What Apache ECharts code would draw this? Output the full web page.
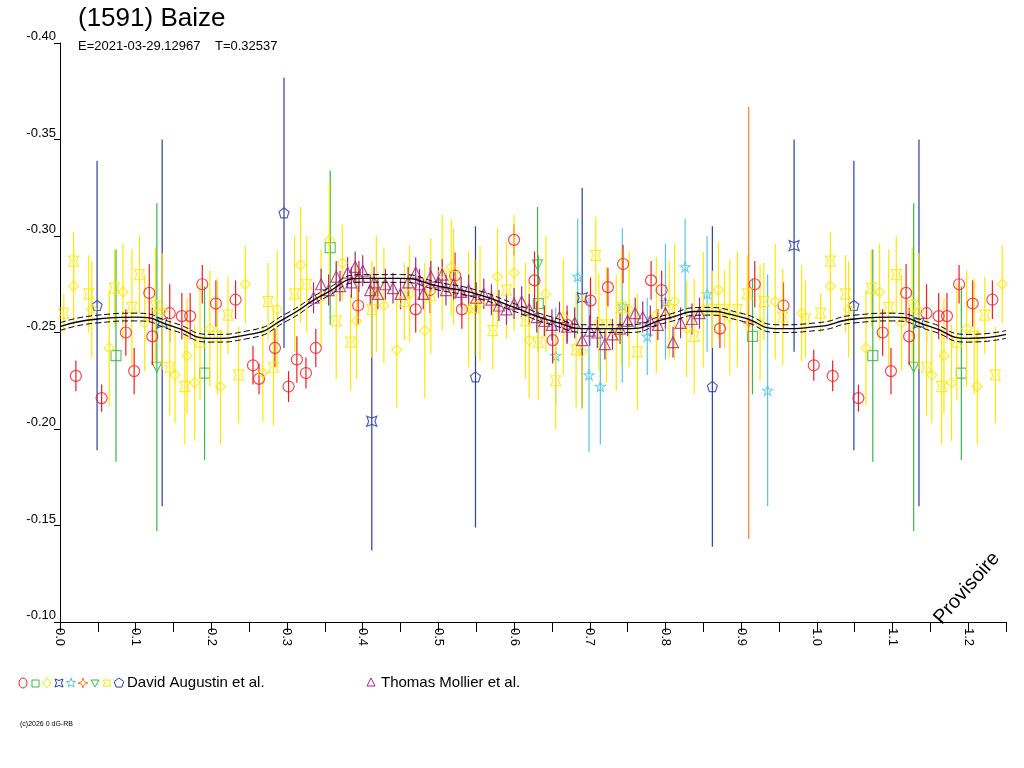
<!DOCTYPE html>
<html><head><meta charset="utf-8">
<script src="https://cdn.jsdelivr.net/npm/echarts@6/dist/echarts.min.js"></script>
<style>html,body{margin:0;padding:0;background:#fff}#c{width:1024px;height:768px}</style>
</head><body><div id="c"></div>
<script>
// model curve (phase, mag)
const curvePhase=[0,0.05,0.1,0.15,0.2,0.25,0.3,0.35,0.4,0.45,0.5,0.55,0.6,0.65,0.7,0.75,0.8,0.85,0.9,0.95,1.0,1.05,1.1,1.15,1.2,1.25];
const curveMag=[-0.253,-0.257,-0.258,-0.253,-0.247,-0.249,-0.258,-0.270,-0.278,-0.278,-0.274,-0.270,-0.263,-0.256,-0.252,-0.252,-0.257,-0.261,-0.258,-0.252,-0.253,-0.257,-0.258,-0.253,-0.247,-0.249];
// data: [phase, mag, err]
const redCircle=[[.021,-.2275,.008],[.055,-.216,.007],[.087,-.250,.012],[.098,-.230,.012],[.118,-.2705,.015],[.122,-.248,.015],[.145,-.260,.015],[.161,-.2585,.012],[.172,-.2585,.012],[.188,-.275,.010],[.206,-.265,.012],[.232,-.267,.010],[.255,-.233,.010],[.263,-.226,.008],[.284,-.242,.010],[.302,-.222,.008],[.313,-.236,.012],[.325,-.229,.008],[.338,-.242,.010],[.394,-.264,.010],[.470,-.262,.012],[.489,-.272,.012],[.522,-.2795,.012],[.531,-.262,.010],[.600,-.298,.008],[.627,-.277,.015],[.651,-.246,.012],[.670,-.254,.010],[.701,-.2665,.012],[.724,-.2735,.010],[.744,-.2855,.010],[.781,-.277,.010],[.795,-.272,.010],[.872,-.252,.010],[.918,-.275,.012],[.956,-.264,.012],[.996,-.233,.008]];
const greenSquare=[[.074,-.238,.055],[.191,-.229,.045],[.357,-.294,.040],[.632,-.265,.025],[.915,-.248,.030]];
const yellowDiamond=[[.018,-.274,.020],[.042,-.262,.025],[.065,-.242,.030],[.083,-.271,.025],[.112,-.255,.025],[.135,-.261,.030],[.152,-.228,.025],[.168,-.238,.030],[.178,-.224,.030],[.198,-.252,.030],[.212,-.222,.030],[.245,-.275,.020],[.268,-.229,.025],[.287,-.262,.030],[.318,-.285,.030],[.345,-.268,.025],[.356,-.298,.030],[.373,-.286,.020],[.392,-.256,.030],[.418,-.270,.030],[.428,-.264,.030],[.445,-.241,.030],[.462,-.270,.025],[.482,-.251,.035],[.505,-.281,.030],[.517,-.284,.025],[.540,-.262,.030],[.555,-.265,.030],[.578,-.279,.025],[.600,-.281,.030],[.620,-.246,.030],[.642,-.270,.030],[.665,-.258,.030],[.690,-.240,.030],[.712,-.255,.025],[.735,-.250,.030],[.752,-.262,.030],[.788,-.259,.030],[.812,-.266,.030],[.828,-.252,.025],[.850,-.262,.030],[.870,-.272,.025],[.885,-.258,.030],[.925,-.255,.030],[.945,-.266,.030],[.980,-.260,.025]];
const yellowStar=[[.005,-.260,.010],[.018,-.287,.015],[.038,-.270,.020],[.072,-.273,.020],[.095,-.263,.030],[.105,-.280,.020],[.126,-.264,.030],[.145,-.232,.025],[.165,-.222,.030],[.185,-.245,.030],[.208,-.248,.030],[.222,-.259,.020],[.236,-.228,.025],[.275,-.266,.020],[.282,-.232,.030],[.310,-.270,.030],[.326,-.275,.025],[.365,-.256,.030],[.384,-.245,.025],[.412,-.262,.025],[.455,-.266,.020],[.490,-.269,.030],[.520,-.279,.025],[.548,-.263,.025],[.572,-.251,.020],[.590,-.272,.025],[.615,-.256,.030],[.632,-.245,.030],[.655,-.225,.025],[.682,-.241,.030],[.708,-.290,.020],[.722,-.254,.030],[.742,-.263,.030],[.763,-.240,.030],[.805,-.262,.025],[.838,-.248,.030],[.862,-.262,.020],[.878,-.262,.020],[.895,-.262,.030],[.908,-.270,.020],[.930,-.266,.020],[.955,-.258,.025],[.985,-.257,.020]];
const blueBox=[[.135,-.255,.095],[.412,-.204,.067],[.690,-.268,.057],[.970,-.295,.055]];
const cyanStar=[[.655,-.238,.025],[.684,-.279,.030],[.699,-.228,.040],[.714,-.222,.030],[.743,-.264,.040],[.776,-.248,.020],[.800,-.266,.030],[.826,-.284,.025],[.855,-.270,.030],[.935,-.220,.060]];
const orangeStar=[[.910,-.255,.112]];
const greenTri=[[.128,-.232,.085],[.631,-.285,.030]];
const bluePentagon=[[.049,-.264,.075],[.296,-.312,.070],[.549,-.227,.078],[.862,-.222,.083]];
const purpleTri=[[.335,-.268],[.345,-.275],[.355,-.272],[.365,-.279],[.37,-.274],[.38,-.281],[.385,-.276],[.39,-.284],[.395,-.279],[.40,-.282],[.41,-.272],[.415,-.276],[.42,-.270],[.43,-.275],[.44,-.273],[.45,-.270],[.46,-.276],[.47,-.281],[.475,-.275],[.48,-.270],[.49,-.279],[.50,-.276],[.505,-.280],[.51,-.272],[.52,-.275],[.53,-.271],[.54,-.272],[.55,-.268],[.56,-.270],[.57,-.267],[.58,-.264],[.59,-.262],[.60,-.265],[.61,-.266],[.62,-.262],[.63,-.258],[.64,-.256],[.65,-.254],[.66,-.258],[.67,-.253],[.68,-.255],[.69,-.246],[.70,-.251],[.71,-.250],[.72,-.244],[.73,-.249],[.74,-.252],[.75,-.256],[.76,-.260],[.77,-.258],[.78,-.256],[.79,-.254],[.80,-.260],[.81,-.245],[.82,-.255],[.835,-.257],[.845,-.260]];
const xTicks=[0,0.1,0.2,0.3,0.4,0.5,0.6,0.7,0.8,0.9,1.0,1.1,1.2];

function wrap(a){const o=a.map(p=>p.length>2?p:[p[0],p[1],0.008]);a.forEach(p=>{if(p[0]<0.25)o.push([p[0]+1,p[1],p.length>2?p[2]:0.008]);});return o;}
const PTS={
 star5:[[0,-10],[2.4,-3.3],[9.5,-3.1],[3.8,1.2],[5.9,8.1],[0,4],[-5.9,8.1],[-3.8,1.2],[-9.5,-3.1],[-2.4,-3.3]],
 star4:[[0,-10],[2.5,-2.5],[10,0],[2.5,2.5],[0,10],[-2.5,2.5],[-10,0],[-2.5,-2.5]],
 box:[[-8,-8],[0,-5],[8,-8],[5,0],[8,8],[0,5],[-8,8],[-5,0]],
 pent:[[0,-10],[9.5,-3.1],[5.9,8.1],[-5.9,8.1],[-9.5,-3.1]],
 ystar:[[-8,-6],[8,-6],[4,0],[8,6],[-8,6],[-4,0]]
};
const P={};Object.keys(PTS).forEach(k=>{P[k]='path://'+PTS[k].map((p,i)=>(i?'L':'M')+p[0]+','+p[1]).join('')+'Z';});
const groups=[
 {d:redCircle,c:'#ee1c24',s:'circle',z:11},
 {d:greenSquare,c:'#3cb44b',s:'rect',z:9},
 {d:yellowDiamond,c:'#ffe800',s:'diamond',z:12},
 {d:blueBox,c:'#2b3d9e',s:'box',z:9},
 {d:cyanStar,c:'#5bc6e0',s:'star5',z:9},
 {d:orangeStar,c:'#ff7f27',s:'star4',z:9},
 {d:greenTri,c:'#3cb44b',s:'triangle',r:180,z:9},
 {d:yellowStar,c:'#ffe800',s:'ystar',z:12},
 {d:bluePentagon,c:'#2b3d9e',s:'pent',z:9},
 {d:purpleTri,c:'#a3297a',s:'triangle',z:13}
];
const series=[];
groups.forEach(g=>{
 const data=wrap(g.d);
 series.push({type:'custom',z:g.z,data:data,encode:{x:0,y:1},silent:true,
  renderItem:(p,api)=>{const x=api.value(0),y=api.value(1),e=api.value(2);
   const a=api.coord([x,y-e]),b=api.coord([x,y+e]);
   return {type:'line',shape:{x1:a[0],y1:a[1],x2:b[0],y2:b[1]},style:{stroke:g.c,lineWidth:1.2}};}});
 series.push({type:'scatter',z:g.z+1,data:data.map(p=>[p[0],p[1]]),symbol:P[g.s]||g.s,symbolRotate:g.r||0,symbolSize:g.s==='circle'?11:(g.c==='#a3297a'?11:10),
  itemStyle:{color:'rgba(0,0,0,0)',borderColor:g.c,borderWidth:1.2},silent:true});
});
const cd=curvePhase.map((x,i)=>[x,curveMag[i]]);
series.push({type:'line',z:20,data:cd,smooth:0.6,symbol:'none',lineStyle:{color:'#000',width:1.3}});
series.push({type:'line',z:20,data:cd.map(p=>[p[0],p[1]-0.002]),smooth:0.6,symbol:'none',lineStyle:{color:'#000',width:1,type:[6,3]}});
series.push({type:'line',z:20,data:cd.map(p=>[p[0],p[1]+0.002]),smooth:0.6,symbol:'none',lineStyle:{color:'#000',width:1,type:[6,3]}});

const F='Liberation Sans, Arial, sans-serif';
const chart=echarts.init(document.getElementById('c'));
const legendShapes=[];
const lx=[23,35,47,59,71,83,95,107,119];
groups.slice(0,9).forEach((g,i)=>{
 let shape;
 const cx=lx[i],cy=683;
 if(g.s==='circle')shape={type:'ellipse',shape:{cx:cx,cy:cy,rx:4,ry:5}};
 else if(g.s==='rect')shape={type:'rect',shape:{x:cx-3,y:cy-3,width:7,height:7}};
 else if(g.s==='diamond')shape={type:'polygon',shape:{points:[[cx,cy-5],[cx+4,cy],[cx,cy+5],[cx-4,cy]]}};
 else if(g.s==='triangle')shape={type:'polygon',shape:{points:[[cx-4,cy-3],[cx+4,cy-3],[cx,cy+4]]}};
 else shape={type:'polygon',shape:{points:PTS[g.s].map(p=>[cx+p[0]*0.5,cy+p[1]*0.5])}};
 shape.style={fill:'none',stroke:g.c,lineWidth:1};
 legendShapes.push(shape);
});
legendShapes.push({type:'polygon',shape:{points:[[371,678],[375,686],[367,686]]},style:{fill:'none',stroke:'#a3297a',lineWidth:1}});
chart.setOption({
 animation:false,
 grid:{left:60,right:18,top:43,bottom:146},
 xAxis:{type:'value',min:0,max:1.25,interval:0.05,
  axisLine:{lineStyle:{color:'#000'}},axisTick:{length:10,lineStyle:{color:'#000'}},splitLine:{show:false},
  axisLabel:{rotate:-90,color:'#000',fontFamily:F,fontSize:13,margin:6,
   formatter:v=>{const r=Math.round(v*100);return (r%10===0&&xTicks.includes(r/100))?(r/100).toFixed(1):'';}}},
 yAxis:{type:'value',inverse:true,min:-0.40,max:-0.10,interval:0.05,
  axisLine:{show:true,lineStyle:{color:'#000'}},axisTick:{show:true,length:6,lineStyle:{color:'#000'}},splitLine:{show:false},
  axisLabel:{color:'#000',fontFamily:F,fontSize:13,margin:4,verticalAlign:'bottom',formatter:v=>v.toFixed(2)}},
 graphic:[
  {type:'text',x:78,y:6,style:{text:'(1591) Baize',font:'26px '+F,fill:'#000'}},
  {type:'text',x:78,y:40,style:{text:'E=2021-03-29.12967    T=0.32537',font:'13px '+F,fill:'#000'}},
  {type:'text',x:930,y:615,rotation:Math.PI*0.27,style:{text:'Provisoire',font:'20px '+F,fill:'#000'}},
  {type:'text',x:127,y:675,style:{text:'David Augustin et al.',font:'15px '+F,fill:'#000'}},
  {type:'text',x:381,y:675,style:{text:'Thomas Mollier et al.',font:'15px '+F,fill:'#000'}},
  {type:'text',x:20,y:721,style:{text:'(c)2026 0 dG-RB',font:'7px '+F,fill:'#000'}}
 ].concat(legendShapes),
 series:series
});
</script></body></html>
